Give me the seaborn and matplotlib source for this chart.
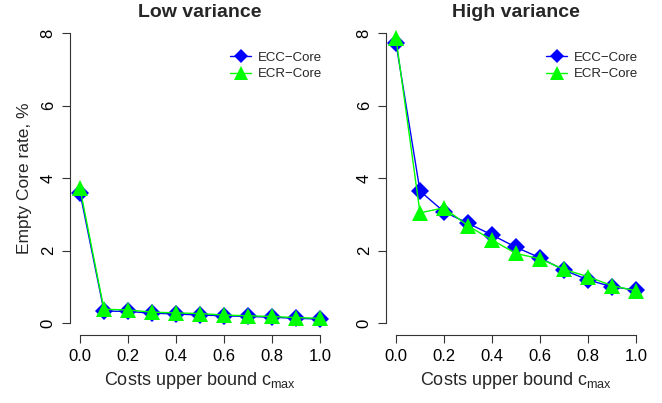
import numpy as np
import pandas as pd
import matplotlib.pyplot as plt
import seaborn as sns

# Data
cmax = [0.0, 0.1, 0.2, 0.3, 0.4, 0.5, 0.6, 0.7, 0.8, 0.9, 1.0]
low_ecc = [3.60, 0.33, 0.32, 0.27, 0.25, 0.22, 0.20, 0.18, 0.16, 0.13, 0.11]
low_ecr = [3.72, 0.38, 0.36, 0.30, 0.28, 0.26, 0.22, 0.20, 0.18, 0.15, 0.13]
high_ecc = [7.72, 3.64, 3.07, 2.75, 2.43, 2.09, 1.80, 1.46, 1.19, 1.00, 0.91]
high_ecr = [7.86, 3.04, 3.18, 2.68, 2.29, 1.92, 1.77, 1.48, 1.28, 1.03, 0.89]
methods = ["ECC\u2212Core", "ECR\u2212Core"]
titles = ["Low variance", "High variance"]

frames = []
for panel, (ecc, ecr) in zip(titles, [(low_ecc, low_ecr), (high_ecc, high_ecr)]):
    for m, vals in zip(methods, [ecc, ecr]):
        frames.append(pd.DataFrame({"panel": panel, "method": m, "cmax": cmax, "rate": vals}))
df = pd.concat(frames, ignore_index=True)

sns.set_style("ticks")
plt.rcParams["font.family"] = ["Liberation Sans", "DejaVu Sans"]

fig = plt.figure(figsize=(6.62, 4.03), dpi=100)
axes = [fig.add_axes([0.1063, 0.1697, 0.3915, 0.777]),
        fig.add_axes([0.5837, 0.1697, 0.3915, 0.777])]

palette = {methods[0]: "#0000FF", methods[1]: "#00FF00"}
markers = {methods[0]: "D", methods[1]: "^"}
sizes_m = {methods[0]: 9, methods[1]: 12}

for ax, panel in zip(axes, titles):
    sub = df[df["panel"] == panel]
    for m in methods:
        d = sub[sub["method"] == m]
        sns.lineplot(data=d, x="cmax", y="rate", ax=ax, color=palette[m],
                     marker=markers[m], markersize=sizes_m[m], markeredgewidth=0,
                     linewidth=1, label=m)
    ax.set_xlim(-0.04, 1.04)
    ax.set_ylim(-0.32, 8.32)
    ax.set_xticks([0, 0.2, 0.4, 0.6, 0.8, 1.0])
    ax.set_xticklabels(["0.0", "0.2", "0.4", "0.6", "0.8", "1.0"])
    ax.set_yticks([0, 2, 4, 6, 8])
    ax.set_yticklabels(["0", "2", "4", "6", "8"], rotation=90, va="center")
    ax.tick_params(axis="both", direction="out", length=5.6, width=0.8,
                   labelsize=12, colors="#333333", labelcolor="black", pad=5)
    for s in ["top", "right"]:
        ax.spines[s].set_visible(False)
    ax.spines["left"].set_bounds(0, 8)
    ax.spines["bottom"].set_bounds(0, 1)
    ax.spines["left"].set_color("#333333")
    ax.spines["bottom"].set_color("#333333")
    ax.set_title(panel, fontsize=14, fontweight="bold", pad=3)
    ax.set_xlabel(r"Costs upper bound c$_\mathregular{max}$", fontsize=13, labelpad=4)
    ax.set_ylabel("")
    ax.legend(loc="upper right", bbox_to_anchor=(1.0, 0.93), frameon=False,
              fontsize=9.5, handlelength=1.6, handletextpad=0.45,
              labelspacing=0.35, borderaxespad=0.2, markerscale=0.8)

axes[0].set_ylabel("Empty Core rate, %", fontsize=12.5, labelpad=6)

fig.savefig("out.png", dpi=100)
